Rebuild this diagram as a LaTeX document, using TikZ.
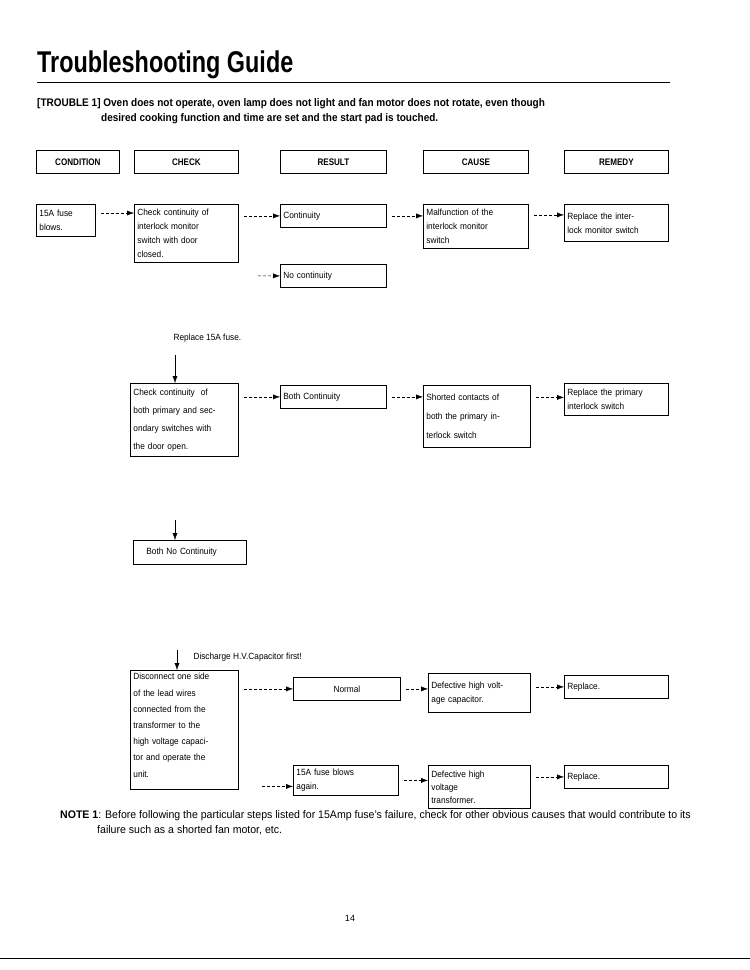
\documentclass[tikz,border=0pt]{standalone}
\usepackage{fontspec}
\setmainfont{Liberation Sans}
\usetikzlibrary{arrows.meta}
\usetikzlibrary{calc}
\tikzset{>={Latex[length=7pt,width=5pt]}}
\tikzset{
  box/.style={draw, thick, anchor=north west, align=left, inner sep=3pt,
    font=\fontsize{9}{14}\selectfont\addfontfeatures{FakeStretch=0.92}},
  head/.style={draw, thick, anchor=north west, minimum width=104pt, minimum height=23pt,
    font=\bfseries\fontsize{9.5}{10}\selectfont\addfontfeatures{FakeStretch=0.85}},
  go/.style={->, densely dashed, shorten <=5pt},
}
\begin{document}
\begin{tikzpicture}[x=1pt,y=-1pt]
\useasboundingbox (0,0) rectangle (750,970);

% title and trouble
\node[anchor=south west, inner sep=0, font=\bfseries\fontsize{30}{32}\selectfont\addfontfeatures{FakeStretch=0.78}] (title) at (37,79) {Troubleshooting Guide};
\draw[thick] (37,82) -- (670,82);
\node[anchor=north west, inner sep=0, align=left, font=\bfseries\fontsize{11}{15}\selectfont\addfontfeatures{FakeStretch=0.91}] (trouble) at (37,98)
  {[TROUBLE 1] Oven does not operate, oven lamp does not light and fan motor does not rotate, even though\\
   \hspace*{64pt}desired cooking function and time are set and the start pad is touched.};

% headings
\node[head, minimum width=83pt] (hcond) at (36,150) {CONDITION};
\node[head] (hcheck) at (134,150) {CHECK};
\node[head, minimum width=106pt] (hres) at (280,150) {RESULT};
\node[head, minimum width=105pt] (hcause) at (423,150) {CAUSE};
\node[head] (hrem) at (564,150) {REMEDY};

% row 1
\node[box, text width=53pt, minimum height=32pt] (fuse) at (36,204) {15A fuse\\blows.};
\node[box, text width=98pt, minimum height=58pt] (chk1) at (134,204) {Check continuity of\\interlock monitor\\switch with door\\closed.};
\node[box, text width=100pt, minimum height=23pt] (cont) at (280,204) {Continuity};
\node[box, text width=99pt, minimum height=44pt] (mal) at (423,204) {Malfunction of the\\interlock monitor\\switch};
\node[box, text width=98pt, minimum height=37pt] (rep1) at (564,204) {Replace the inter-\\lock monitor switch};
\node[box, text width=100pt, minimum height=23pt] (nocont) at (280,264) {No continuity};
\draw[go] (fuse.east |- chk1.north west) ++(0,9) -- ([yshift=-9pt]chk1.north west);
\draw[go] (chk1.east |- cont.west) -- (cont.west);
\draw[go] (cont.east) -- (cont.east -| mal.west);
\draw[go] (mal.east |- rep1.west) ++(0,-8) -- ([yshift=8pt]rep1.west);
\draw[go] (chk1.south east) ++(14,13) -- (nocont.west);

\node[anchor=west, font=\fontsize{9}{10}\selectfont\addfontfeatures{FakeStretch=0.92}] (rep15) at (170,338) {Replace 15A fuse.};

% row 2
\node[box, text width=102pt, minimum height=73pt, font=\fontsize{9}{18}\selectfont\addfontfeatures{FakeStretch=0.92}] (chk2) at (130,383) {Check continuity\ \ of\\both primary and sec-\\ondary switches with\\the door open.};
\node[box, text width=100pt, minimum height=23pt] (both) at (280,385) {Both Continuity};
\node[box, text width=101pt, minimum height=62pt, font=\fontsize{9}{19}\selectfont\addfontfeatures{FakeStretch=0.92}] (short) at (423,385) {Shorted contacts of\\both the primary in-\\terlock switch};
\node[box, text width=98pt, minimum height=32pt] (rep2) at (564,383) {Replace the primary\\interlock switch};
\draw[->] (175,355) -- (chk2.north -| 175,0);
\draw[go] (chk2.east |- both.west) -- (both.west);
\draw[go] (both.east) -- (both.east -| short.west);
\draw[go] (short.east |- rep2.west) ++(0,-2) -- ([yshift=2pt]rep2.west);

\node[box, text width=107pt, minimum height=24pt] (nob) at (133,540) {\hspace*{10pt}Both No Continuity};
\draw[->] (175,520) -- (nob.north -| 175,0);

% row 3
\node[anchor=west, font=\fontsize{9}{10}\selectfont\addfontfeatures{FakeStretch=0.92}] (dis) at (190,657) {Discharge H.V.Capacitor first!};
\node[box, text width=102pt, font=\fontsize{9}{16.2}\selectfont\addfontfeatures{FakeStretch=0.92}] (chk3) at (130,670) {Disconnect one side\\of the lead wires\\connected from the\\transformer to the\\high voltage capaci-\\tor and operate the\\unit.\\[-7pt]\mbox{}};
\node[box, text width=101pt, minimum height=23pt, align=center] (norm) at (293,677) {Normal};
\node[box, text width=96pt, minimum height=39pt] (defc) at (428,673) {Defective high volt-\\age capacitor.};
\node[box, text width=98pt, minimum height=23pt] (rep3) at (564,675) {Replace.};
\node[box, text width=99pt, minimum height=30pt] (again) at (293,765) {15A fuse blows\\again.};
\node[box, text width=96pt, minimum height=43pt, font=\fontsize{9}{13}\selectfont\addfontfeatures{FakeStretch=0.92}] (deft) at (428,765) {Defective high\\voltage\\transformer.};
\node[box, text width=98pt, minimum height=23pt] (rep4) at (564,765) {Replace.};
\draw[->] (177,650) -- (chk3.north -| 177,0);
\draw[go] (chk3.east |- norm.west) -- (norm.west);
\draw[go] (norm.east) -- (norm.east -| defc.west);
\draw[go] (defc.east |- rep3.west) -- (rep3.west);
\draw[go] (chk3.east |- again.west) ++(18,6) -- ([yshift=-6pt]again.west);
\draw[go] (again.east) -- (again.east -| deft.west);
\draw[go] (deft.east |- rep4.west) -- (rep4.west);

% note and page
\node[anchor=north west, inner sep=0, align=left, font=\fontsize{11}{15}\selectfont\addfontfeatures{FakeStretch=0.96}] (note) at (60,810)
  {\textbf{NOTE 1}: Before following the particular steps listed for 15Amp fuse's failure, check for other obvious causes that would contribute to its\\
   \hspace*{37pt}failure such as a shorted fan motor, etc.};
\node[font=\fontsize{9}{10}\selectfont] (page) at (350,918) {14};
\draw (0,958) -- (750,958);
\end{tikzpicture}
\end{document}
